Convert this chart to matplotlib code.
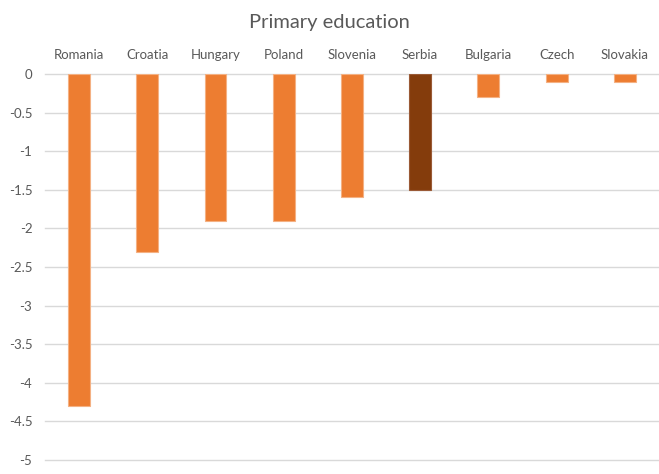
import matplotlib.pyplot as plt
import numpy as np

countries = ["Romania", "Croatia", "Hungary", "Poland", "Slovenia",
             "Serbia", "Bulgaria", "Czech", "Slovakia"]
change = [-4.3, -2.3, -1.9, -1.9, -1.6, -1.5, -0.3, -0.1, -0.1]
highlight = "Serbia"

yticks = [0, -0.5, -1, -1.5, -2, -2.5, -3, -3.5, -4, -4.5, -5]
ytick_labels = ["0", "-0.5", "-1", "-1.5", "-2", "-2.5", "-3", "-3.5", "-4", "-4.5", "-5"]

plt.rcParams["font.family"] = ["Lato", "DejaVu Sans"]
fig = plt.figure(figsize=(6.59, 4.74), dpi=100)
ax = fig.add_axes([0.068, 0.0295, 0.932, 0.8145])

x = np.arange(len(countries))
colors = ["#843C0C" if c == highlight else "#ED7D31" for c in countries]
edges = ["#9A5A36" if c == highlight else "#F4B183" for c in countries]
ax.bar(x, change, width=0.32, color=colors, edgecolor=edges, linewidth=0.8, zorder=3)

ax.set_xlim(-0.5, len(countries) - 0.5)
ax.set_ylim(-5, 0)
ax.set_yticks(yticks)
ax.set_yticklabels(ytick_labels)
ax.yaxis.grid(True, color="#D9D9D9", linewidth=1, zorder=0)
ax.set_axisbelow(True)
for gl in ax.get_ygridlines():
    gl.set_clip_on(False)

ax.xaxis.tick_top()
ax.set_xticks(x)
ax.set_xticklabels(countries)
ax.tick_params(axis="x", length=0, pad=9, labelsize=9.5, labelcolor="#595959")
ax.tick_params(axis="y", length=0, pad=9, labelsize=9.5, labelcolor="#595959")
for s in ax.spines.values():
    s.set_visible(False)

fig.text(0.5, 0.953, "Primary education", ha="center", va="center",
         fontsize=14.5, color="#595959")

fig.savefig("out.png", dpi=100)
